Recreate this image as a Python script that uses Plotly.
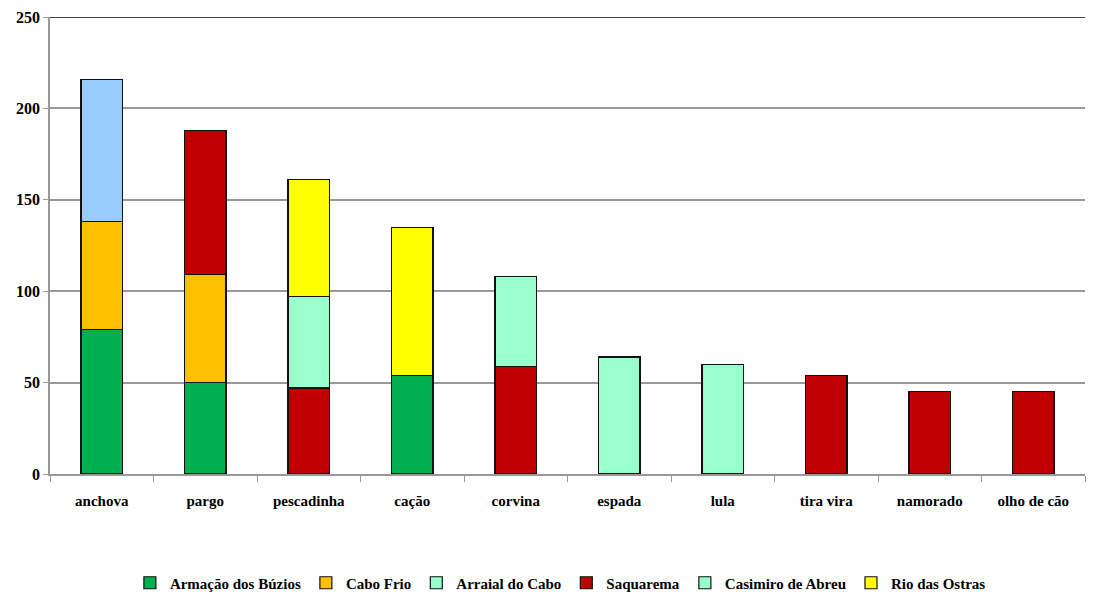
import plotly.graph_objects as go

categories = ["anchova", "pargo", "pescadinha", "cação", "corvina",
              "espada", "lula", "tira vira", "namorado", "olho de cão"]

buzios      = [79, 50, None, 54, None, None, None, None, None, None]
cabo_frio   = [59, 59, None, None, None, None, None, None, None, None]
saquarema   = [None, 79, 47, None, 59, None, None, 54, 45, 45]
arraial     = [None, None, 50, None, 49, 64, 60, None, None, None]
casimiro    = [78, None, None, None, None, None, None, None, None, None]
rio_ostras  = [None, None, 64, 81, None, None, None, None, None, None]

y_ticks = [0, 50, 100, 150, 200, 250]

FONT = "Liberation Serif"

# stacking order (bottom -> top) and legend rank
series = [
    ("Armação dos Búzios", buzios, "#00B050", 1),
    ("Cabo Frio", cabo_frio, "#FFC000", 2),
    ("Saquarema", saquarema, "#C00000", 4),
    ("Arraial do Cabo", arraial, "#99FFCC", 3),
    ("Casimiro de Abreu", casimiro, "#99FFCC", 5),
    ("Rio das Ostras", rio_ostras, "#FFFF00", 6),
]

fig = go.Figure()
for name, vals, color, rank in series:
    x = categories
    y = vals
    mc = color
    if name == "Casimiro de Abreu":
        # the bar itself appears light blue, legend swatch light green
        x = categories[::-1]
        y = vals[::-1]
        mc = ["#99CCFF" if c == "anchova" else color for c in x]
    fig.add_trace(go.Bar(
        name=name, x=x, y=y,
        marker=dict(color=mc, line=dict(color="#111111", width=1.2)),
        width=0.4, legendrank=rank,
    ))

fig.add_shape(type="line", xref="paper", yref="y", x0=0, x1=1, y0=250, y1=250,
              line=dict(color="#000000", width=1.5), layer="above")

fig.update_layout(
    barmode="stack",
    width=1096, height=594,
    margin=dict(l=42, r=19, t=9, b=128, autoexpand=False),
    plot_bgcolor="white", paper_bgcolor="white",
    font=dict(family=FONT, size=15, color="#000000"),
    showlegend=True,
    legend=dict(orientation="h", x=0.504, xref="container", xanchor="center",
                y=0.032, yref="container", yanchor="middle",
                font=dict(family=FONT, size=15, color="#000000", weight="bold"),
                traceorder="normal", itemwidth=30, tracegroupgap=0),
    xaxis=dict(categoryorder="array", categoryarray=categories, automargin=False,
               showline=True, linecolor="#999999", linewidth=1.5,
               ticks="outside", tickson="boundaries", ticklen=6, tickcolor="#999999",
               ticklabelstandoff=12,
               tickfont=dict(family=FONT, size=15, color="#000000", weight="bold"),
               showgrid=False, range=[-0.5, 9.5]),
    yaxis=dict(range=[0, 250], tickvals=y_ticks, automargin=False,
               showline=True, linecolor="#999999", linewidth=1.5,
               ticks="outside", ticklen=5, tickcolor="#999999",
               gridcolor="#999999", gridwidth=1.5, zeroline=False,
               tickfont=dict(family=FONT, size=16, color="#000000", weight="bold")),
)

fig.write_html("out.html")
